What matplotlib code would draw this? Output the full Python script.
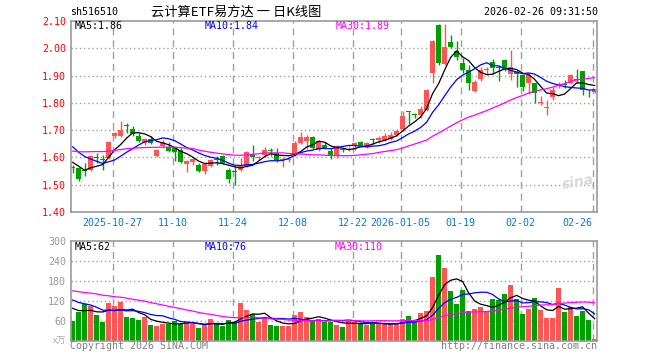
import matplotlib.pyplot as plt
import numpy as np
import pandas as pd

# trading days shown on the chart
dates = (["2025-10-%02d" % d for d in [16, 17, 20, 21, 22, 23, 24, 27, 28, 29, 30, 31]]
         + ["2025-11-%02d" % d for d in [3, 4, 5, 6, 7, 10, 11, 12, 13, 14, 17, 18, 19, 20, 21,
                                         24, 25, 26, 27, 28]]
         + ["2025-12-%02d" % d for d in [1, 2, 3, 4, 5, 8, 9, 10, 11, 12, 15, 16, 17, 18, 19,
                                         22, 23, 24, 25, 26, 29, 30, 31]]
         + ["2026-01-%02d" % d for d in [5, 6, 7, 8, 9, 12, 13, 14, 15, 16, 19, 20, 21, 22, 23,
                                         26, 27, 28, 29, 30]]
         + ["2026-02-%02d" % d for d in [2, 3, 4, 5, 6, 9, 10, 11, 12, 13, 24, 25, 26]])

opens = [1.562, 1.562, 1.554, 1.553, 1.599, 1.593, 1.598, 1.680, 1.680, 1.718,
         1.706, 1.680, 1.653, 1.666, 1.607, 1.641, 1.637, 1.635, 1.629, 1.576,
         1.582, 1.574, 1.550, 1.570, 1.593, 1.607, 1.555, 1.550, 1.555, 1.568,
         1.614, 1.597, 1.610, 1.626, 1.617, 1.589, 1.591, 1.610, 1.653, 1.660,
         1.675, 1.629, 1.647, 1.625, 1.607, 1.630, 1.629, 1.641, 1.657, 1.641,
         1.666, 1.663, 1.663, 1.666, 1.684, 1.705, 1.767, 1.758, 1.754, 1.774,
         1.908, 2.086, 1.943, 2.024, 1.991, 1.945, 1.921, 1.845, 1.887, 1.922,
         1.948, 1.928, 1.957, 1.905, 1.914, 1.902, 1.874, 1.872, 1.799, 1.781,
         1.823, 1.865, 1.867, 1.872, 1.885, 1.918, 1.839, 1.838]
highs = [1.574, 1.565, 1.580, 1.609, 1.617, 1.610, 1.660, 1.692, 1.733, 1.727,
         1.715, 1.690, 1.672, 1.678, 1.632, 1.665, 1.655, 1.640, 1.635, 1.590,
         1.598, 1.578, 1.580, 1.595, 1.604, 1.610, 1.560, 1.568, 1.598, 1.625,
         1.647, 1.607, 1.640, 1.635, 1.635, 1.600, 1.600, 1.660, 1.695, 1.684,
         1.680, 1.665, 1.655, 1.635, 1.645, 1.635, 1.641, 1.656, 1.660, 1.656,
         1.672, 1.680, 1.690, 1.692, 1.705, 1.770, 1.770, 1.762, 1.790, 1.850,
         2.030, 2.089, 2.089, 2.049, 2.028, 1.963, 1.940, 1.885, 1.933, 1.933,
         1.962, 1.940, 1.962, 1.994, 1.920, 1.905, 1.907, 1.872, 1.824, 1.810,
         1.859, 1.878, 1.882, 1.907, 1.923, 1.918, 1.848, 1.850]
lows = [1.543, 1.515, 1.533, 1.549, 1.580, 1.553, 1.595, 1.670, 1.675, 1.690,
        1.680, 1.655, 1.645, 1.648, 1.600, 1.635, 1.620, 1.586, 1.578, 1.547,
        1.572, 1.545, 1.541, 1.565, 1.574, 1.575, 1.507, 1.498, 1.550, 1.565,
        1.586, 1.590, 1.600, 1.605, 1.582, 1.565, 1.583, 1.605, 1.650, 1.630,
        1.630, 1.625, 1.630, 1.595, 1.598, 1.620, 1.623, 1.627, 1.640, 1.636,
        1.648, 1.652, 1.660, 1.663, 1.680, 1.696, 1.724, 1.745, 1.745, 1.770,
        1.874, 1.940, 1.940, 2.000, 1.957, 1.909, 1.847, 1.840, 1.880, 1.902,
        1.905, 1.880, 1.915, 1.884, 1.859, 1.845, 1.833, 1.800, 1.791, 1.755,
        1.810, 1.853, 1.853, 1.870, 1.872, 1.830, 1.820, 1.835]
closes = [1.560, 1.522, 1.552, 1.607, 1.597, 1.591, 1.656, 1.690, 1.702, 1.716,
          1.686, 1.659, 1.668, 1.653, 1.629, 1.657, 1.625, 1.619, 1.582, 1.586,
          1.595, 1.550, 1.576, 1.589, 1.591, 1.580, 1.521, 1.548, 1.568, 1.619,
          1.600, 1.599, 1.629, 1.624, 1.590, 1.595, 1.593, 1.653, 1.675, 1.675,
          1.635, 1.660, 1.635, 1.607, 1.641, 1.628, 1.631, 1.653, 1.643, 1.653,
          1.664, 1.672, 1.680, 1.684, 1.696, 1.751, 1.765, 1.756, 1.776, 1.847,
          2.028, 1.945, 2.006, 2.006, 1.967, 1.921, 1.874, 1.878, 1.921, 1.924,
          1.927, 1.927, 1.923, 1.930, 1.905, 1.859, 1.902, 1.837, 1.800, 1.782,
          1.847, 1.866, 1.866, 1.902, 1.884, 1.847, 1.838, 1.847]
# volume, x10k
volumes = [60, 86, 110, 104, 78, 57, 114, 105, 117, 72,
           69, 63, 73, 48, 45, 51, 51, 60, 51, 58,
           52, 38, 48, 66, 52, 45, 63, 56, 114, 93,
           80, 58, 72, 48, 45, 46, 46, 78, 87, 72,
           61, 66, 58, 58, 48, 42, 60, 58, 53, 48,
           56, 51, 50, 50, 52, 66, 76, 61, 84, 90,
           193, 258, 220, 150, 111, 153, 90, 96, 102, 90,
           126, 123, 141, 168, 126, 81, 96, 130, 93, 69,
           69, 159, 87, 102, 75, 90, 63, 6]

# earlier days (left of the chart), only used for the moving averages
hist_close = [1.58, 1.57, 1.59, 1.58, 1.60, 1.61, 1.60, 1.62, 1.61, 1.63,
              1.62, 1.64, 1.63, 1.62, 1.64, 1.63, 1.62, 1.64, 1.63, 1.64,
              1.72, 1.71, 1.70, 1.68, 1.67, 1.592, 1.627, 1.562, 1.569]
hist_vol = [170, 180, 160, 150, 175, 165, 190, 155, 160, 170,
            145, 165, 175, 150, 160, 170, 165, 155, 180, 150,
            160, 150, 140, 145, 145, 120, 110, 100, 100]

tick_dates = ["2025-10-27", "2025-11-10", "2025-11-24", "2025-12-08", "2025-12-22",
              "2026-01-05", "2026-01-19", "2026-02-02", "2026-02-26"]
tick_labels = ["2025-10-27", "11-10", "11-24", "12-08", "12-22",
               "2026-01-05", "01-19", "02-02", "02-26"]
price_ticks = [1.40, 1.50, 1.60, 1.70, 1.80, 1.90, 2.00, 2.10]
vol_ticks = [60, 120, 180, 240, 300]

RED = "#ff5555"
GREEN = "#00a000"
GRID = "#a0a0a0"
MONO = "DejaVu Sans Mono"

n = len(closes)
x = np.arange(n)
o = np.array(opens)
c = np.array(closes)
cols = np.where(c >= o, RED, GREEN)

cs = pd.Series(hist_close + closes)
vs = pd.Series(hist_vol + volumes)
k = len(hist_close)
ma_p = {m: cs.rolling(m).mean().values[k:] for m in (5, 10, 30)}
ma_v = {m: vs.rolling(m).mean().values[k:] for m in (5, 10, 30)}
ma_col = {5: "black", 10: "#0000ff", 30: "#ff00ff"}

fig = plt.figure(figsize=(6.6, 3.6), dpi=100)
ax = fig.add_axes([70.7 / 660, 1 - 212 / 360, 526.3 / 660, 191 / 360])
axv = fig.add_axes([70.7 / 660, 1 - 341 / 360, 526.3 / 660, 100 / 360])

tick_x = [dates.index(d) - 0.33 for d in tick_dates]

# grid first, then the marks on top
for a in (ax, axv):
    for tx in tick_x:
        a.axvline(tx, color=GRID, lw=1.0, ls=(0, (5, 3.5)), zorder=1)
for p in price_ticks[1:-1]:
    ax.axhline(p, color=GRID, lw=1.0, ls=(0, (1, 2)), zorder=1)
for v in vol_ticks[:-1]:
    axv.axhline(v, color=GRID, lw=1.0, ls=(0, (1, 2)), zorder=1)

# candles
ax.vlines(x, lows, highs, colors=cols, lw=1, zorder=2)
body = np.maximum(np.abs(c - o), 0.0035)
ax.bar(x, body, bottom=np.minimum(o, c), width=0.8, color=cols, lw=0, zorder=2)
for m in (5, 10, 30):
    ax.plot(x, ma_p[m], color=ma_col[m], lw=0.9, zorder=3)

axv.bar(x, volumes, width=0.8, color=cols, lw=0, zorder=2)
for m in (5, 10, 30):
    axv.plot(x, ma_v[m], color=ma_col[m], lw=0.9, zorder=3)

for a in (ax, axv):
    a.set_xlim(-0.33, 87.4)
    for s in a.spines.values():
        s.set_color("#999999")
        s.set_linewidth(1.2)
    a.set_xticks(tick_x)

ax.set_ylim(1.40, 2.10)
ax.set_yticks(price_ticks)
ax.set_yticklabels(["%.2f" % p for p in price_ticks], color="red", family=MONO, fontsize=7.2)
ax.set_xticklabels(tick_labels, color="#0a78d2", family=MONO, fontsize=7.2)
ax.get_xticklabels()[-1].set_ha("right")
ax.tick_params(axis="x", direction="in", length=2, color="#999999", pad=4)
ax.tick_params(axis="y", length=0, pad=3.4)

axv.set_ylim(0, 300)
axv.set_yticks(vol_ticks)
axv.set_yticklabels([str(v) for v in vol_ticks], color="#999999", family=MONO, fontsize=7.2)
axv.tick_params(axis="x", length=0, labelbottom=False)
axv.tick_params(axis="y", length=0, pad=3.4)

# titles and labels
fig.text(70 / 660, 1 - 12 / 360, "sh516510", family=MONO, fontsize=7.2, va="center")
fig.text(236 / 660, 1 - 12 / 360, "云计算ETF易方达 一 日K线图",
         family=["Noto Sans CJK SC", "DejaVu Sans"], fontsize=9.5, ha="center", va="center")
fig.text(598 / 660, 1 - 12 / 360, "2026-02-26 09:31:50", family=MONO, fontsize=7.2,
         ha="right", va="center")

fig.text(75 / 660, 1 - 26 / 360, "MA5:1.86", color="black", family=MONO, fontsize=7.2, va="center")
fig.text(205 / 660, 1 - 26 / 360, "MA10:1.84", color="#0000ff", family=MONO, fontsize=7.2, va="center")
fig.text(336 / 660, 1 - 26 / 360, "MA30:1.89", color="#ff00ff", family=MONO, fontsize=7.2, va="center")
fig.text(75 / 660, 1 - 246.5 / 360, "MA5:62", color="black", family=MONO, fontsize=7.2, va="center")
fig.text(205 / 660, 1 - 246.5 / 360, "MA10:76", color="#0000ff", family=MONO, fontsize=7.2, va="center")
fig.text(335 / 660, 1 - 246.5 / 360, "MA30:110", color="#ff00ff", family=MONO, fontsize=7.2, va="center")

fig.text(66 / 660, 1 - 341 / 360, "x万", color="#aaaaaa", family=["Noto Sans CJK SC", "DejaVu Sans"],
         fontsize=6.5, ha="right", va="center", style="italic")
fig.text(70 / 660, 1 - 346 / 360, "Copyright 2026 SINA.COM", color="#808080", family=MONO,
         fontsize=7.2, va="center")
fig.text(597 / 660, 1 - 346 / 360, "http://finance.sina.com.cn", color="#808080", family=MONO,
         fontsize=7.2, ha="right", va="center")
fig.text(578 / 660, 1 - 182 / 360, "sina", color="#d8d8d8", fontsize=10, style="italic",
         weight="bold", ha="center", va="center", rotation=10)

fig.savefig("out.png", dpi=100)
